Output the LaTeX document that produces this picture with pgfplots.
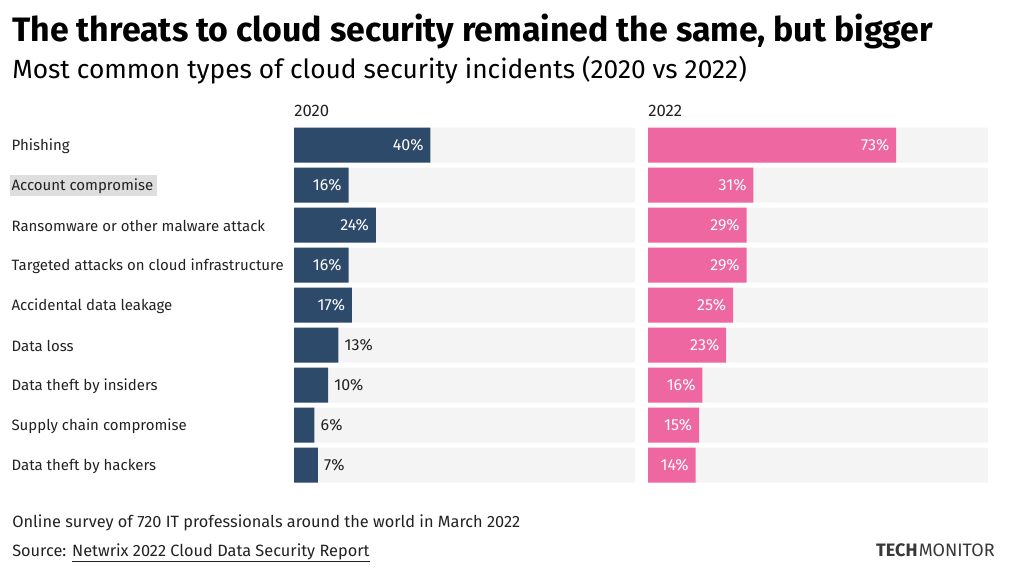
\documentclass[border=0pt]{standalone}
\usepackage{pgfplots}
\usepackage{pgfplotstable}
\pgfplotsset{compat=1.18}
\usepackage{fontspec}
\setmainfont{Fira Sans}

\definecolor{navy}{HTML}{2E4A6B}
\definecolor{pinkbar}{HTML}{EE67A0}
\definecolor{bggray}{HTML}{F4F4F4}
\definecolor{ink}{HTML}{222222}

% incidents, share of respondents (%)
\pgfplotstableread{
idx v20 v22 full
0 40 73 100
1 16 31 100
2 24 29 100
3 16 29 100
4 17 25 100
5 13 23 100
6 10 16 100
7 6 15 100
8 7 14 100
}\incidents

\pgfplotsset{
  panel/.style={
    xbar, scale only axis,
    height=270pt,
    xmin=0, xmax=100,
    ymin=-0.5, ymax=8.5,
    y dir=reverse,
    axis line style={draw=none},
    tick style={draw=none},
    xtick=\empty,
    /pgf/number format/assume math mode=true,
    clip=false,
  },
  inlabel/.style={
    draw=none, fill=none, bar shift=0pt, bar width=26.25pt,
    nodes near coords={\pgfmathprintnumber{\pgfplotspointmeta}\%},
    every node near coord/.append style={anchor=east, inner sep=0pt, xshift=-5pt, text=white, font=\fontsize{12}{14}\selectfont},
  },
  outlabel/.style={
    draw=none, fill=none, bar shift=0pt, bar width=26.25pt,
    nodes near coords={\pgfmathprintnumber{\pgfplotspointmeta}\%},
    every node near coord/.append style={anchor=west, inner sep=0pt, xshift=4.5pt, text=ink, font=\fontsize{12}{14}\selectfont},
  },
}

\begin{document}
\begin{tikzpicture}[x=0.75pt, y=0.75pt]
  \path (0,0) rectangle (1024,571);
  \fill[black!13] (10,571-175) rectangle (157,571-196);

  \node[anchor=base west, inner sep=0pt, text=black, font=\fontsize{25.4}{30}\selectfont\bfseries]
    at (12,529) {The threats to cloud security remained the same, but bigger};
  \node[anchor=base west, inner sep=0pt, text=black, font=\fontsize{19.75}{23}\selectfont]
    at (12,492) {Most common types of cloud security incidents (2020 vs 2022)};
  \node[anchor=base west, inner sep=0pt, text=ink, font=\fontsize{12.5}{15}\selectfont]
    at (294,454) {2020};
  \node[anchor=base west, inner sep=0pt, text=ink, font=\fontsize{12.5}{15}\selectfont]
    at (648,454) {2022};

  \begin{axis}[panel, at={(220.5pt,64.5pt)}, anchor=south west, width=255.75pt,
      ytick={0,...,8},
      yticklabels={Phishing, Account compromise, Ransomware or other malware attack,
        Targeted attacks on cloud infrastructure, Accidental data leakage, Data loss,
        Data theft by insiders, Supply chain compromise, Data theft by hackers},
      yticklabel style={anchor=west, xshift=-207.75pt, yshift=-0.75pt, inner sep=0pt, text=ink,
        font=\fontsize{11.25}{13}\selectfont}]
    \addplot[draw=none, fill=bggray, bar shift=0pt, bar width=26.25pt] table[x=full, y=idx] {\incidents};
    \addplot[draw=none, fill=navy, bar shift=0pt, bar width=26.25pt] table[x=v20, y=idx] {\incidents};
    \addplot[inlabel, restrict y to domain=0:4] table[x=v20, y=idx] {\incidents};
    \addplot[outlabel, restrict y to domain=5:8] table[x=v20, y=idx] {\incidents};
  \end{axis}

  \begin{axis}[panel, at={(486pt,64.5pt)}, anchor=south west, width=255pt, ytick=\empty]
    \addplot[draw=none, fill=bggray, bar shift=0pt, bar width=26.25pt] table[x=full, y=idx] {\incidents};
    \addplot[draw=none, fill=pinkbar, bar shift=0pt, bar width=26.25pt] table[x=v22, y=idx] {\incidents};
    \addplot[inlabel] table[x=v22, y=idx] {\incidents};
  \end{axis}

  \node[anchor=base west, inner sep=0pt, text=ink, font=\fontsize{12.25}{14}\selectfont]
    at (12,44) {Online survey of 720 IT professionals around the world in March 2022};
  \node[anchor=base west, inner sep=0pt, text=ink, font=\fontsize{12.25}{14}\selectfont]
    at (12,15) {Source: \underline{Netwrix 2022 Cloud Data Security Report}};
  \node[anchor=base east, inner sep=0pt, text=ink!90, font=\fontsize{13.5}{16}\selectfont]
    at (995,15) {\textbf{TECH}\hspace{1pt}MONITOR};
\end{tikzpicture}
\end{document}
